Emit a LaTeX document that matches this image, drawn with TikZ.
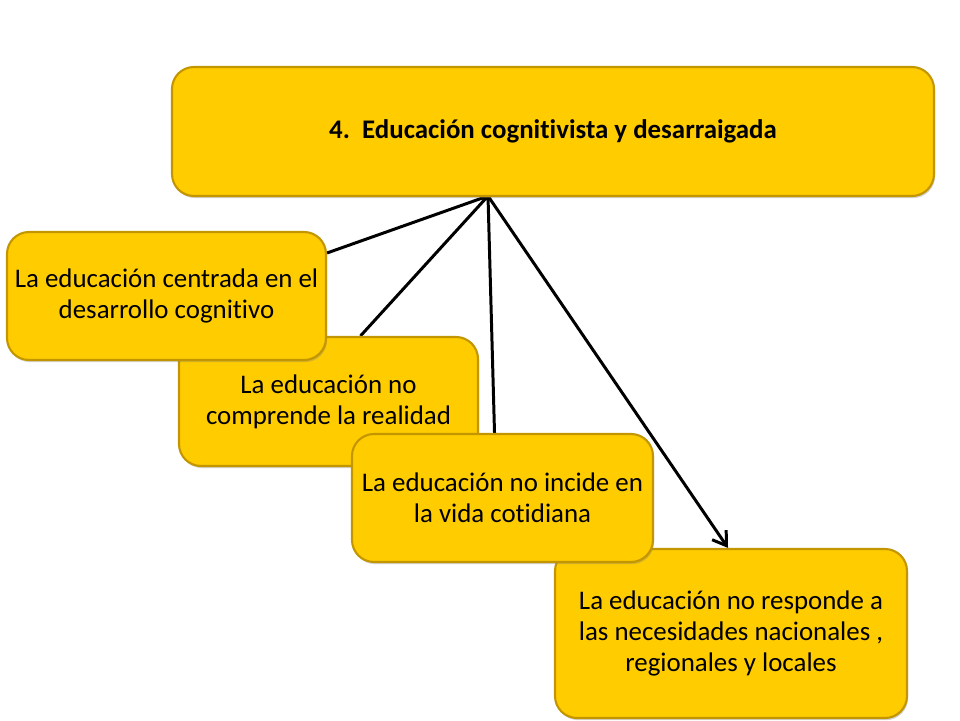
\documentclass[tikz,border=0pt]{standalone}
\usepackage{fontspec}
\setmainfont{Carlito}[Ligatures=NoCommon]
\usetikzlibrary{positioning, arrows.meta, shadows}
\definecolor{boxgold}{RGB}{255,204,0}
\definecolor{boxedge}{RGB}{195,150,0}
\pgfdeclarelayer{back}
\pgfsetlayers{back,main}
\tikzset{
idea/.style={rectangle, rounded corners=0.44cm, fill=boxgold, draw=boxedge, line width=1.2pt, align=center, inner sep=0pt, font=\fontsize{15.3}{17.5}\selectfont, drop shadow={opacity=0.35, shadow xshift=0.6pt, shadow yshift=-1.2pt}}, % the gold boxes
link/.style={line width=1.7pt}, % the lines from the title
>={Straight Barb[length=2.6mm, width=3.4mm]}, % open arrow head
}

\begin{document}
\begin{tikzpicture}
\useasboundingbox (0,0) rectangle (19.2,14.4);
\node[idea, minimum width=15.24cm, minimum height=2.58cm, font=\bfseries\fontsize{15.3}{17.5}\selectfont] (title) at (11.06,11.77) {4.\ \ Educación cognitivista y desarraigada};
\node[idea, minimum width=7.04cm, minimum height=3.38cm] (respond) at (14.62,1.73) {La educación no responde a\\las necesidades nacionales ,\\regionales y locales};
\node[idea, minimum width=5.98cm, minimum height=2.58cm] (reality) at (6.57,6.37) {La educación no\\comprende la realidad};
\node[idea, minimum width=6.02cm, minimum height=2.56cm] (daily) at (10.05,4.44) {La educación no incide en\\la vida cotidiana};
\node[idea, minimum width=6.38cm, minimum height=2.56cm] (centred) at (3.33,8.48) {La educación centrada en el\\desarrollo cognitivo};
\coordinate (hub) at (9.76,10.48);
\begin{pgfonlayer}{back}
\fill[white] (0,0) rectangle (19.2,14.4);
\draw[link] (hub) -- (centred.15)
(hub) -- (reality.64)
(hub) -- (daily.97);
\draw[link, ->] (hub) -- (respond.92);
\end{pgfonlayer}
\end{tikzpicture}
\end{document}
